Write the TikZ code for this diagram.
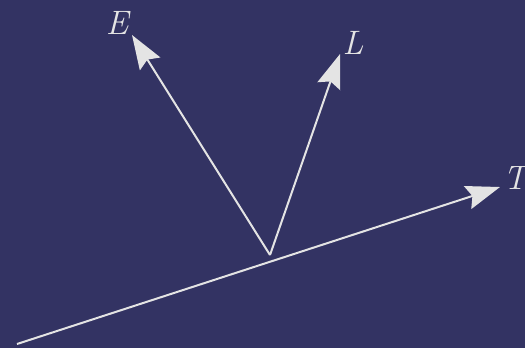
\documentclass[tikz,border=0pt]{standalone}
\usetikzlibrary{arrows.meta}
\definecolor{bg}{HTML}{333363}
\definecolor{fg}{HTML}{E4E4E4}
\begin{document}
\begin{tikzpicture}[x=1bp,y=-1bp,
  vec/.style={draw=fg,line width=2bp,-{Stealth[length=34bp,width=24bp,inset=5bp]}},
  lbl/.style={text=fg,inner sep=0pt,font=\fontsize{34}{38}\selectfont\itshape}]
\fill[bg] (0,0) rectangle (525,348);
\useasboundingbox (0,0) rectangle (525,348);
\coordinate (S) at (17,344);
\coordinate (Tt) at (500,187);
\coordinate (P) at (270,255);
\coordinate (Et) at (132,35);
\coordinate (Lt) at (340,54);
\draw[vec] (S) -- (Tt);
\draw[vec] (P) -- (Et);
\draw[vec] (P) -- (Lt);
\node[lbl] (E) at (117,23) {E};
\node[lbl] (L) at (353,43) {L};
\node[lbl] (T) at (515,178) {T};
\end{tikzpicture}
\end{document}
